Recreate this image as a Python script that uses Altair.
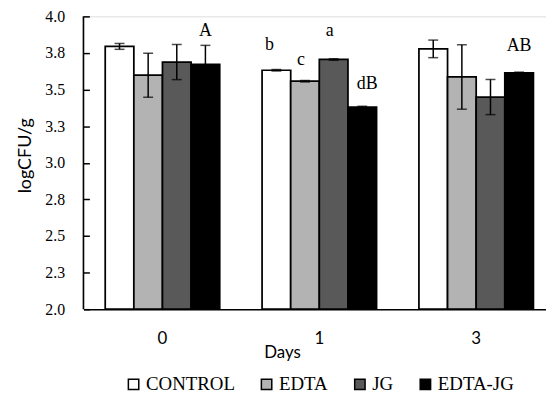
import altair as alt
import pandas as pd

days = ["0", "1", "3"]
treatments = ["CONTROL", "EDTA", "JG", "EDTA-JG"]
colors = ["#ffffff", "#b3b3b3", "#595959", "#000000"]

control_mean = [3.795, 3.632, 3.778]
edta_mean = [3.598, 3.557, 3.586]
jg_mean = [3.688, 3.706, 3.449]
edtajg_mean = [3.672, 3.381, 3.614]

control_err = [0.02, 0.005, 0.06]
edta_err = [0.15, 0.005, 0.22]
jg_err = [0.12, 0.005, 0.12]
edtajg_err = [0.13, 0.005, 0.005]

ann_day = ["0", "1", "1", "1", "1", "3"]
ann_trt = ["EDTA-JG", "CONTROL", "EDTA", "JG", "EDTA-JG", "EDTA-JG"]
ann_text = ["A", "b", "c", "a", "dB", "AB"]
ann_y = [3.865, 3.770, 3.669, 3.865, 3.506, 3.761]
ann_dx = [0, -7, -4, -4, 5, 0]

y_ticks = [2.0, 2.25, 2.5, 2.75, 3.0, 3.25, 3.5, 3.75, 4.0]
y_base = 2.0

rows = []
for trt, m, e in zip(treatments,
                     [control_mean, edta_mean, jg_mean, edtajg_mean],
                     [control_err, edta_err, jg_err, edtajg_err]):
    for d, mv, ev in zip(days, m, e):
        rows.append({"Day": d, "Treatment": trt, "mean": mv, "base": y_base,
                     "lo": mv - ev, "hi": mv + ev})
df = pd.DataFrame(rows)

ann_df = pd.DataFrame({"Day": ann_day, "Treatment": ann_trt,
                       "label": ann_text, "ypos": ann_y})

W, H = 466, 295
YTITLE = "logCFU/g"

x_enc = alt.X(
    "Day:N", sort=days,
    scale=alt.Scale(domain=days, paddingInner=0.27, paddingOuter=0.1095, align=0.634),
    axis=alt.Axis(
        title="Days", labelAngle=0, ticks=False, tickSize=0,
        domain=True, domainColor="black", domainWidth=1.6,
        labelFont="Lato", labelFontSize=17, labelPadding=22, labelColor="black",
        titleFont="Lato", titleFontSize=17, titleFontWeight="normal",
        titleColor="black", titleX=200, titleY=44, titleBaseline="middle",
    ),
)
xo_enc = alt.XOffset("Treatment:N", sort=treatments,
                     scale=alt.Scale(domain=treatments, paddingInner=0, paddingOuter=0))

y_scale = alt.Scale(domain=[2, 4], zero=False, nice=False)
y_axis = alt.Axis(values=y_ticks, format=".1f", grid=False, domain=False,
                  labelOverlap=False, tickCount=9,
                  offset=-6, tickSize=6, tickWidth=1.5, tickColor="black",
                  labelFont="Liberation Serif", labelFontSize=16,
                  labelPadding=19, labelColor="black",
                  titleFont="Lato", titleFontSize=18, titleFontWeight="normal",
                  titlePadding=10, titleY=140, titleColor="black")


def yenc(field):
    return alt.Y(field, scale=y_scale, title=YTITLE, axis=y_axis)


bars = alt.Chart(df).mark_bar(stroke="black", strokeWidth=1.75).encode(
    x=x_enc,
    xOffset=xo_enc,
    y=yenc("mean:Q"),
    y2="base:Q",
    fill=alt.Fill("Treatment:N", sort=treatments,
                  scale=alt.Scale(domain=treatments, range=colors),
                  legend=alt.Legend(title=None, orient="none", legendX=41, legendY=361,
                                    direction="horizontal", symbolType="square",
                                    symbolSize=110, symbolStrokeColor="black",
                                    symbolStrokeWidth=1.5,
                                    labelFont="Liberation Serif", labelFontSize=19,
                                    labelColor="black", labelOffset=3,
                                    columnPadding=22)),
)

rules = alt.Chart(df).mark_rule(color="black", strokeWidth=1.5).encode(
    x=x_enc, xOffset=xo_enc, y=yenc("lo:Q"), y2="hi:Q",
)
cap_lo = alt.Chart(df).mark_tick(color="black", size=10, thickness=1.5).encode(
    x=x_enc, xOffset=xo_enc, y=yenc("lo:Q"))
cap_hi = alt.Chart(df).mark_tick(color="black", size=10, thickness=1.5).encode(
    x=x_enc, xOffset=xo_enc, y=yenc("hi:Q"))

texts = []
for i in range(len(ann_text)):
    sub = ann_df.iloc[[i]]
    texts.append(
        alt.Chart(sub).mark_text(font="Liberation Serif", fontSize=18, color="black",
                                 baseline="alphabetic", align="center", dx=ann_dx[i]).encode(
            x=x_enc, xOffset=xo_enc, y=yenc("ypos:Q"), text="label:N",
        )
    )

yline = alt.Chart(pd.DataFrame({"k": [0]})).mark_rule(color="black", strokeWidth=1.6).encode(
    x=alt.value(0), y=alt.value(0), y2=alt.value(H))

chart = alt.layer(bars, rules, cap_lo, cap_hi, *texts, yline).properties(
    width=W, height=H,
    autosize=alt.AutoSizeParams(type="none"),
    padding={"left": 76, "top": 7, "right": 0, "bottom": 84},
).configure_view(stroke=None).configure(background="white")

chart.save("out.html", embed_options={"renderer": "svg", "actions": False})
